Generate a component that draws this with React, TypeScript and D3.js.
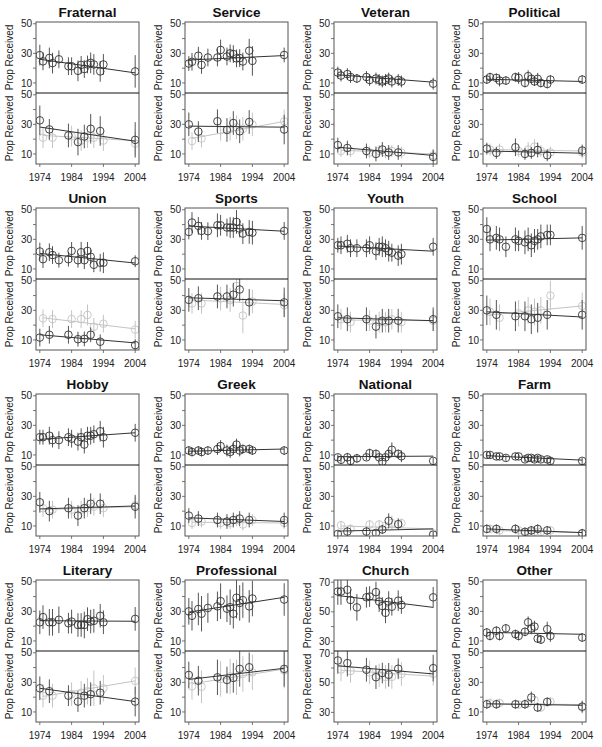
import React from "react";
import * as d3 from "d3";

const PANELS = ["Fraternal","Service","Veteran","Political","Union","Sports","Youth","School","Hobby","Greek","National","Farm","Literary","Professional","Church","Other"];
const YEARS_TOP = [1974,1975,1977,1978,1980,1983,1984,1986,1987,1988,1989,1990,1991,1993,1994,2004];
const YEARS_DARK = [1974,1977,1983,1986,1988,1990,1993,2004];
const YEARS_LIGHT = [1975,1978,1984,1987,1989,1991,1994,2004];
const X_TICKS = [1974,1984,1994,2004];
const Y_TICKS_STD = [10,30,50];
const Y_MINOR_STD = [20,40];
const Y_TICKS_CHURCH = [30,50,70];
const Y_MINOR_CHURCH = [40,60];
const Y_DOMAIN_STD = [3.2, 51.2];
const Y_DOMAIN_CHURCH = [23.5, 71.5];

const TOP_VALUES = [
  [28.8,24.6,26.9,23.4,26,21.3,21.3,18.2,22.2,19.4,22.5,23.6,22.5,17.8,22.5,17.8],
  [23.1,24.3,28.4,22.2,27.2,27.2,32.3,27.9,30,29.5,26.6,26.8,24.5,31.8,24.9,28.9],
  [17,15,16,14,13,14,12,13,12,11,12,13,11,12,11,9.5],
  [12.3,13.9,13.4,11.6,11.6,13.9,13.4,10,14.6,12.8,11,12.8,10,9.3,12.3,12.3],
  [21.8,16.6,21.3,19.4,15.9,16.6,22.2,15.9,21.3,15.9,22.2,18.2,12.8,14.2,14.2,15.2],
  [35,41.4,39.1,35.7,35.5,39.5,39.5,38,38,38,41.8,37.3,33.9,35,34.5,35.7],
  [26,26,27,24,24,24,26,22,25,25,24,22,21,19,20,25],
  [37,30,31,30,25,30,29,28,30,26,29,30,32,33,33,31],
  [22,22,23,20,20,22,21,19,22,17,23,23,24,26,22,25],
  [13,12,13,12,13,14,16,13,12,14,17,13,14,14,13,13],
  [8.4,6.7,8.4,6,7.7,8.4,11.2,10.7,8.4,5.3,8.4,10.7,13.5,10.7,9.1,6],
  [10,10,9,9,8,9,9,7,8,8,7,8,7,7,6,6],
  [22.6,26.1,22.6,22.6,24.3,22,23.1,20.8,20.8,20.8,24.7,23.1,23.6,27,22.6,24.9],
  [30,27,31.6,28.4,32.3,33.4,36.9,31.8,32.8,28.4,39.2,35.7,37.6,33.4,38.7,38],
  [63.7,63.7,64.9,58,53,59.8,60.3,63.3,56.9,53.9,49.3,56.9,53.4,57.5,54.6,59.8],
  [15.7,13.4,16.9,13.4,18.5,14.6,13.4,16.2,22.6,18.5,19.7,11.6,10.9,18,13.4,12.3],
];
const TOP_ERRORS = [
  [7,6,7,7,6,6,6,7,6,6,6,7,7,7,7,11],
  [5,6,6,6,6,6,7,6,6,6,6,6,6,8,10,5],
  [4,4,4,4,3,4,4,4,4,4,4,4,4,4,4,4],
  [3,3,3,4,3,3,4,3,4,3,3,4,3,3,3,3],
  [6,6,6,6,5,5,6,5,7,6,6,5,5,6,7,4],
  [5,7,6,6,6,8,7,6,7,7,8,6,7,8,8,6],
  [5,6,6,6,6,6,6,6,6,7,6,7,6,7,7,6],
  [8,8,8,8,7,8,7,8,8,8,8,7,8,7,7,8],
  [5,5,6,5,6,6,6,6,6,6,6,6,6,7,7,6],
  [3,3,3,3,3,4,4,4,4,4,4,4,3,3,3,3],
  [2,2,3,3,3,2,3,3,2,2,2,3,5,3,4,2],
  [2,2,2,2,2,2,2,2,2,2,2,2,2,2,2,2],
  [8,8,9,9,9,7,8,8,8,9,8,8,8,8,8,8],
  [9,10,11,12,10,10,12,9,12,10,14,12,12,11,12,11],
  [9,9,7,7,9,7,7,7,7,6,7,7,6,7,6,7],
  [3,3,3,3,3,3,3,3,4,4,4,3,3,5,4,3],
];
const TOP_LINES = [
  [26,16.8],[25.5,28.5],[15.5,10.5],[12.5,11],[20.5,14],[39,35.5],[25.5,22],[29.5,31],
  [20.5,25],[12.5,14],[8.8,9.2],[9.5,6.5],[23.7,23.3],[29.5,39.5],[61,53],[15.8,14.5],
];
const DARK_VALUES = [
  [32.7,26.6,22.5,18,21.8,27,25.5,19.5],
  [30,25.1,32.1,26.2,30.9,25.3,31.6,26.5],
  [16,14,12,10,13,11,11,8],
  [13.6,10.7,14.5,10,10.7,12.7,9.1,12.3],
  [11.6,13.5,13.5,10.5,10.7,13.5,8.8,6.5],
  [37.1,38.2,39.4,39.4,40.6,44.1,35.4,35.4],
  [26,24,24,19,23,23,23,24],
  [30,27,26,26,24,25,27,27],
  [26,20,22,17,22,25,25,23],
  [17,15,14,13,14,15,14,14],
  [4.6,6.2,6.2,5.3,7.6,13.5,11.2,4.1],
  [8,8,8,6,7,8,7,5],
  [26,24,21,17,21,22,23,17],
  [35,31.1,33.4,31.6,33,39.1,40.2,39.1],
  [65.1,63.3,58.8,53.8,56.6,55.4,59.5,59.9],
  [15.2,15.2,15.2,15.2,19.8,13,16.8,13.6],
];
const DARK_ERRORS = [
  [10,7,8,9,8,10,10,12],
  [8,7,8,8,8,8,8,10],
  [5,5,5,5,5,5,5,5],
  [4,4,6,4,4,5,4,4],
  [6,6,6,5,5,5,5,4],
  [8,8,8,8,8,8,9,10],
  [8,8,8,8,8,8,8,8],
  [10,10,10,10,10,10,10,10],
  [7,7,7,7,7,7,7,8],
  [5,5,5,5,5,5,5,5],
  [2,3,3,2,3,5,4,2],
  [3,3,3,3,3,3,3,3],
  [8,8,7,7,8,8,8,10],
  [9,10,12,9,10,12,10,12],
  [9,9,8,8,7,8,7,9],
  [3,3,3,3,4,3,3,4],
];
const DARK_LINES = [
  [28.2,18.6],[28.8,28.1],[14.5,9],[12,10.5],[13.5,8],[38.5,36.5],[25,23],[29,25.5],
  [21.5,23.5],[15.5,13],[6.5,8],[8,5.5],[26,17],[32,39.5],[61.5,56],[15.5,14.5],
];
const LIGHT_VALUES = [
  [21,21,22,19,21,21,19,17],
  [18.7,20.4,26,27,28,27,30,32],
  [12,12,11,12,11,12,11,9],
  [13,13,12,13,15,12,11,11],
  [24.6,24.1,24.1,24.1,26.9,18.9,21,17],
  [34.7,34.7,38,37,46.5,26.5,36,33.5],
  [24,22,23,22,22,24,22,23],
  [29,25,28,30,29,30,40,33],
  [22,21,21,21,22,23,22,24],
  [12,13,12,12,14,11,14,12],
  [10.5,8,11,11,10,12,11.9,5],
  [8,7,7,6,6,6,7,5],
  [21,21,22,23,24,26,26,31],
  [27.3,27,32.3,34,33.4,35.7,36.8,38],
  [59,58,57,55,54,54,56,56],
  [16,16,15,16,18,13,17,13],
];
const LIGHT_ERRORS = [
  [7,7,7,7,7,7,7,8],
  [6,6,7,8,8,8,8,8],
  [4,4,4,4,4,4,4,4],
  [4,4,4,5,5,4,4,4],
  [6,6,6,6,7,6,6,6],
  [7,7,8,8,8,12,8,8],
  [7,7,7,7,7,7,7,7],
  [9,9,9,9,9,9,10,9],
  [6,6,6,6,6,6,6,6],
  [4,4,4,4,4,4,4,4],
  [3,3,3,3,3,5,3,3],
  [3,3,3,3,3,3,3,3],
  [8,8,8,8,9,12,9,9],
  [9,11,12,12,12,12,12,12],
  [8,8,8,8,8,8,8,8],
  [3,3,3,3,4,3,3,4],
];
const LIGHT_LINES = [
  [22.5,19],[20.5,32],[12.5,10],[13,12],[25,17.5],[37,34],[23.5,23],[27,33],
  [21,23],[12.5,12],[10,8],[7,5.5],[20.5,31],[29,39],[58.5,54.5],[15.5,15],
];

const W = 602;
const H = 747;
const COL_LEFT0 = 36;
const COL_STEP = 149;
const PANEL_W = 103;
const ROW_TOP0 = 22;
const ROW_STEP = 186;
const SUB_H = 71;
const FONT = "'Liberation Sans', Arial, Helvetica, sans-serif";

const DARK = "#333";
const DARK_BAR = "#555";
const LIGHT = "#c4c4c4";

type Series = { years: number[]; values: number[]; errors: number[]; line: number[]; lineYears: number[]; color: string; bar: string };

function SubPanel({ id, left, top, yDomain, series }: { id: string; left: number; top: number; yDomain: number[]; series: Series[] }) {
  const x = d3.scaleLinear().domain([1972.8, 2005.2]).range([left, left + PANEL_W]);
  const y = d3.scaleLinear().domain(yDomain).range([top + SUB_H, top]);
  return (
    <g>
      <defs>
        <clipPath id={id}>
          <rect x={left} y={top} width={PANEL_W} height={SUB_H} />
        </clipPath>
      </defs>
      <g clipPath={`url(#${id})`}>
        {series.map((s, si) => (
          <g key={si}>
            {s.values.map((v, i) => (
              <line key={"e" + i} x1={x(s.years[i])} x2={x(s.years[i])} y1={y(v - s.errors[i])} y2={y(v + s.errors[i])} stroke={s.bar} strokeWidth={1} />
            ))}
            <line x1={x(s.lineYears[0])} x2={x(s.lineYears[1])} y1={y(s.line[0])} y2={y(s.line[1])} stroke={s.color} strokeWidth={1} />
            {s.values.map((v, i) => (
              <circle key={"c" + i} cx={x(s.years[i])} cy={y(v)} r={3.8} fill="none" stroke={s.color} strokeWidth={0.9} />
            ))}
          </g>
        ))}
      </g>
    </g>
  );
}

function Panel({ idx }: { idx: number }) {
  const col = idx % 4;
  const row = Math.floor(idx / 4);
  const left = COL_LEFT0 + col * COL_STEP;
  const top = ROW_TOP0 + row * ROW_STEP;
  const mid = top + SUB_H;
  const bottom = mid + SUB_H;
  const isChurch = PANELS[idx] === "Church";
  const yDomain = isChurch ? Y_DOMAIN_CHURCH : Y_DOMAIN_STD;
  const majors = isChurch ? Y_TICKS_CHURCH : Y_TICKS_STD;
  const minors = isChurch ? Y_MINOR_CHURCH : Y_MINOR_STD;
  const x = d3.scaleLinear().domain([1972.8, 2005.2]).range([left, left + PANEL_W]);
  const yTop = d3.scaleLinear().domain(yDomain).range([mid, top]);
  const yBot = d3.scaleLinear().domain(yDomain).range([bottom, mid]);

  const topSeries: Series[] = [
    { years: YEARS_TOP, values: TOP_VALUES[idx], errors: TOP_ERRORS[idx], line: TOP_LINES[idx], lineYears: [1974, 2004], color: DARK, bar: DARK_BAR },
  ];
  const botSeries: Series[] = [
    { years: YEARS_LIGHT, values: LIGHT_VALUES[idx], errors: LIGHT_ERRORS[idx], line: LIGHT_LINES[idx], lineYears: [1975, 2004], color: LIGHT, bar: LIGHT },
    { years: YEARS_DARK, values: DARK_VALUES[idx], errors: DARK_ERRORS[idx], line: DARK_LINES[idx], lineYears: [1974, 2004], color: DARK, bar: DARK_BAR },
  ];

  const axisY = (scale: d3.ScaleLinear<number, number>, key: string) => (
    <g key={key}>
      {majors.concat(minors).map((t) => (
        <line key={t} x1={left - 3} x2={left} y1={scale(t)} y2={scale(t)} stroke="#555" strokeWidth={0.8} />
      ))}
      {majors.map((t) => (
        <text key={"l" + t} x={left - 4} y={scale(t) + 3.6} textAnchor="end" fontSize={10} fill="#222" fontFamily={FONT}>{t}</text>
      ))}
    </g>
  );

  return (
    <g>
      <text x={left + PANEL_W / 2} y={top - 5} textAnchor="middle" fontSize={13.5} fontWeight="bold" fill="#111" fontFamily={FONT}>{PANELS[idx]}</text>
      <SubPanel id={`clipT${idx}`} left={left} top={top} yDomain={yDomain} series={topSeries} />
      <SubPanel id={`clipB${idx}`} left={left} top={mid} yDomain={yDomain} series={botSeries} />
      <rect x={left} y={top} width={PANEL_W} height={SUB_H * 2} fill="none" stroke="#555" strokeWidth={1} />
      <line x1={left} x2={left + PANEL_W} y1={mid} y2={mid} stroke="#111" strokeWidth={1} />
      {axisY(yTop, "yt")}
      {axisY(yBot, "yb")}
      {X_TICKS.map((t) => (
        <g key={t}>
          <line x1={x(t)} x2={x(t)} y1={bottom} y2={bottom + 3} stroke="#555" strokeWidth={0.8} />
          <text x={x(t)} y={bottom + 16.5} textAnchor="middle" fontSize={10} fill="#222" fontFamily={FONT}>{t}</text>
        </g>
      ))}
      <text transform={`translate(${left - 23},${top + SUB_H / 2}) rotate(-90)`} textAnchor="middle" fontSize={10} fill="#222" fontFamily={FONT}>Prop Received</text>
      <text transform={`translate(${left - 23},${mid + SUB_H / 2}) rotate(-90)`} textAnchor="middle" fontSize={10} fill="#222" fontFamily={FONT}>Prop Received</text>
    </g>
  );
}

export default function App() {
  return (
    <svg width={W} height={H} style={{ position: "absolute", left: 0, top: 0, background: "#fff" }}>
      <rect width={W} height={H} fill="#fff" />
      {PANELS.map((_, i) => (
        <Panel key={i} idx={i} />
      ))}
    </svg>
  );
}
